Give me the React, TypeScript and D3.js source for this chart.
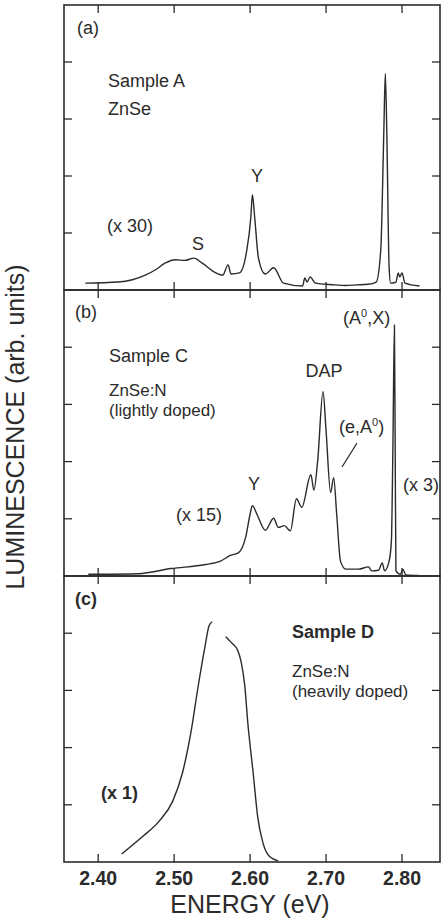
import React from "react";
import * as d3 from "d3";

// energy axis
const energyTicks = [2.4, 2.5, 2.6, 2.7, 2.8];
const energyTickLabels = ["2.40", "2.50", "2.60", "2.70", "2.80"];
const intensityTicks = [1, 2, 3, 4];

// (a) Sample A, ZnSe  [eV, arb.]
const sampleA: [number, number][] = [
  [2.383, 0.12], [2.426, 0.14], [2.445, 0.18], [2.462, 0.26], [2.476, 0.36], [2.488, 0.47],
  [2.502, 0.53], [2.514, 0.52], [2.526, 0.56], [2.537, 0.47], [2.555, 0.3], [2.564, 0.26],
  [2.571, 0.44], [2.575, 0.28], [2.586, 0.3], [2.595, 0.65], [2.601, 1.28], [2.603, 1.67],
  [2.606, 1.28], [2.611, 0.56], [2.62, 0.28], [2.631, 0.39], [2.644, 0.12], [2.669, 0.07],
  [2.672, 0.21], [2.675, 0.14], [2.679, 0.23], [2.686, 0.12], [2.7, 0.1], [2.712, 0.09],
  [2.725, 0.08], [2.741, 0.09], [2.755, 0.1], [2.766, 0.14], [2.772, 0.7], [2.776, 2.75],
  [2.778, 3.8], [2.78, 2.75], [2.783, 0.4], [2.785, 0.12], [2.792, 0.14], [2.795, 0.3],
  [2.797, 0.23], [2.8, 0.3], [2.804, 0.12], [2.823, 0.07],
];

// (b) Sample C, ZnSe:N lightly doped
const sampleC: [number, number][] = [
  [2.387, 0.03], [2.453, 0.04], [2.496, 0.13], [2.541, 0.2], [2.561, 0.26], [2.574, 0.36],
  [2.585, 0.41], [2.594, 0.67], [2.6, 1.08], [2.603, 1.23], [2.609, 1.08], [2.62, 0.8],
  [2.631, 1.01], [2.637, 0.85], [2.645, 0.88], [2.653, 0.79], [2.661, 1.35], [2.668, 1.2],
  [2.68, 1.77], [2.684, 1.5], [2.689, 2.02], [2.696, 3.22], [2.7, 2.54], [2.706, 1.46],
  [2.71, 1.72], [2.714, 1.08], [2.719, 0.26], [2.726, 0.12], [2.743, 0.12], [2.756, 0.16],
  [2.76, 0.09], [2.769, 0.1], [2.774, 0.23], [2.777, 0.09], [2.783, 0.26], [2.786, 0.61],
  [2.788, 2.25], [2.79, 4.39], [2.791, 2.25], [2.792, 0.09], [2.798, 0.03], [2.801, 0.12],
  [2.805, 0.02], [2.822, 0.01],
];

// (c) Sample D, ZnSe:N heavily doped (two traces, gap near the top)
const sampleDLow: [number, number][] = [
  [2.431, 0.14], [2.458, 0.44], [2.48, 0.71], [2.498, 1.06], [2.511, 1.56], [2.522, 2.26],
  [2.531, 3.02], [2.54, 3.72], [2.546, 4.13], [2.55, 4.2],
];
const sampleDHigh: [number, number][] = [
  [2.568, 3.94], [2.575, 3.84], [2.584, 3.69], [2.588, 3.51], [2.593, 3.08], [2.597, 2.43],
  [2.604, 1.56], [2.61, 0.79], [2.617, 0.33], [2.626, 0.09], [2.637, 0.02],
];

const W = 441;
const H = 919;
const left = 64;
const right = 440;
const panels = [
  { top: 5, bottom: 290, series: [sampleA] },
  { top: 290, bottom: 576, series: [sampleC] },
  { top: 576, bottom: 862, series: [sampleDLow, sampleDHigh] },
];

const ink = "#2b2b2b";
const font = "'Liberation Sans', Arial, Helvetica, sans-serif";

export default function App() {
  const x = d3.scaleLinear().domain([2.355, 2.85]).range([left, right]);
  const tickLen = 8;

  return (
    <svg width={W} height={H} style={{ position: "absolute", left: 0, top: 0, background: "#fff" }}
      fontFamily={font} fill={ink}>
      {panels.map((p, i) => {
        const y = d3.scaleLinear().domain([0, 5]).range([p.bottom, p.top]);
        const line = d3.line<[number, number]>()
          .x(d => x(d[0]))
          .y(d => y(d[1]))
          .curve(d3.curveMonotoneX);
        return (
          <g key={i}>
            <rect x={left} y={p.top} width={right - left} height={p.bottom - p.top}
              fill="none" stroke={ink} strokeWidth={1.6} />
            {intensityTicks.map(t => (
              <g key={t} stroke={ink} strokeWidth={1.3}>
                <line x1={left} x2={left + tickLen} y1={y(t)} y2={y(t)} />
                <line x1={right} x2={right - tickLen} y1={y(t)} y2={y(t)} />
              </g>
            ))}
            {energyTicks.map(t => (
              <g key={t} stroke={ink} strokeWidth={1.3}>
                <line x1={x(t)} x2={x(t)} y1={p.top} y2={p.top + tickLen} />
                <line x1={x(t)} x2={x(t)} y1={p.bottom} y2={p.bottom - tickLen} />
              </g>
            ))}
            {p.series.map((s, j) => (
              <path key={j} d={line(s) ?? ""} fill="none" stroke={ink} strokeWidth={1.4}
                strokeLinejoin="round" />
            ))}
          </g>
        );
      })}

      {/* bottom energy axis labels */}
      {energyTicks.map((t, i) => (
        <text key={t} x={x(t)} y={885} textAnchor="middle" fontSize={19.5} fontWeight="bold">
          {energyTickLabels[i]}
        </text>
      ))}
      <text x={250} y={913} textAnchor="middle" fontSize={25}>ENERGY (eV)</text>
      <text transform="translate(24,427) rotate(-90)" textAnchor="middle" fontSize={25}>
        LUMINESCENCE (arb. units)
      </text>

      {/* panel (a) */}
      <g fontSize={18}>
        <text x={77} y={34}>(a)</text>
        <text x={108} y={87}>Sample A</text>
        <text x={108} y={115}>ZnSe</text>
        <text x={107} y={232}>(x 30)</text>
        <text x={198} y={250} textAnchor="middle">S</text>
        <text x={257} y={182} textAnchor="middle">Y</text>
      </g>

      {/* panel (b) */}
      <g fontSize={18}>
        <text x={75} y={318}>(b)</text>
        <text x={109} y={362}>Sample C</text>
        <text x={109} y={396} fontSize={17}>ZnSe:N</text>
        <text x={109} y={416} fontSize={17}>(lightly doped)</text>
        <text x={324} y={377} textAnchor="middle">DAP</text>
        <text x={343} y={324}>(A<tspan fontSize={11} dy={-7}>0</tspan><tspan dy={7}>,X)</tspan></text>
        <text x={339} y={433}>(e,A<tspan fontSize={11} dy={-7}>0</tspan><tspan dy={7}>)</tspan></text>
        <line x1={357} y1={443} x2={342} y2={467} stroke={ink} strokeWidth={1.2} />
        <text x={254} y={490} textAnchor="middle">Y</text>
        <text x={176} y={521}>(x 15)</text>
        <text x={403} y={491}>(x 3)</text>
      </g>

      {/* panel (c) */}
      <g fontSize={18}>
        <text x={75} y={605} fontWeight="bold">(c)</text>
        <text x={292} y={638} fontWeight="bold">Sample D</text>
        <text x={292} y={677} fontSize={17}>ZnSe:N</text>
        <text x={292} y={697} fontSize={17}>(heavily doped)</text>
        <text x={101} y={799} fontWeight="bold">(x 1)</text>
      </g>
    </svg>
  );
}
